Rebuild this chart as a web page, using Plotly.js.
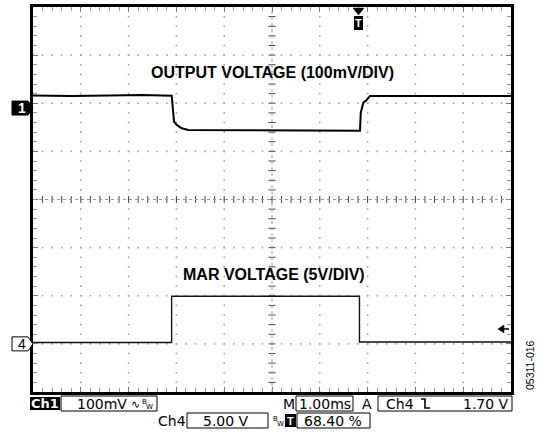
<!DOCTYPE html>
<html><head><meta charset="utf-8">
<script src="https://cdn.plot.ly/plotly-3.0.1.min.js"></script>
<style>html,body{margin:0;padding:0;background:#fff}</style>
</head><body><div id="chart" style="width:537px;height:432px"></div>
<script>
// ---- data (screen divisions: time 1 ms/div from left edge, level in divisions) ----
const outTime  = [0, 0.8, 1.6, 2.3, 2.902, 2.95, 3.006, 3.111, 3.249, 5.0, 6.841, 6.856, 6.91, 6.981, 7.05, 8.0, 9.0, 10];
const outLevel = [2.16, 2.15, 2.16, 2.17, 2.158, 1.617, 1.549, 1.48, 1.445, 1.44, 1.43, 1.798, 2.012, 2.069, 2.152, 2.15, 2.15, 2.15];
const marTime  = [0, 2.90, 2.90, 6.83, 6.83, 10];
const marLevel = [-2.97, -2.97, -2.01, -2.01, -2.96, -2.96];
const ch1Ref = 1.90, ch4Ref = -3.0, trigLevel = -2.69, trigPos = 6.82;
const outLabel = "OUTPUT VOLTAGE (100mV/DIV)";
const marLabel = "MAR VOLTAGE (5V/DIV)";
const ch1Scale = "100mV", ch4Scale = "5.00 V", timeBase = "1.00ms", trigText = "1.70 V", trigPct = "68.40 %";
const figId = "05311-016";

// ---- geometry ----
const W = 537, H = 432, PL = 33, PR = 511, PT = 7, PB = 392;
const DX = (PR - PL) / 10, DY = (PB - PT) / 8;
const xPix = d => PL + d * DX;
const yPix = v => (PT + PB) / 2 - v * DY;
const fx = p => p / W, fy = p => 1 - p / H;

// grid dots
const gx = [], gy = [];
for (let i = 1; i <= 9; i++) { if (i === 5) continue; for (let k = 0; k <= 40; k++) { gx.push(i); gy.push(-4 + k * 0.2); } }
for (let j = -3; j <= 3; j++) { if (j === 0) continue; for (let k = 0; k <= 50; k++) { gx.push(k * 0.2); gy.push(j); } }
// center ticks
const chx = [], chy = [], cvx = [], cvy = [];
for (let k = 1; k < 50; k++) { chx.push(k * 0.2); chy.push(0); }
for (let k = 1; k < 40; k++) { cvx.push(5); cvy.push(-4 + k * 0.2); }

const traces = [
  {x: gx, y: gy, mode: 'markers', marker: {size: 1.6, color: '#a0a0a0', symbol: 'square'}, hoverinfo: 'skip'},
  {x: chx, y: chy, mode: 'markers', marker: {symbol: 'line-ns', size: 5, line: {width: 1, color: '#444'}}, hoverinfo: 'skip'},
  {x: cvx, y: cvy, mode: 'markers', marker: {symbol: 'line-ew', size: 5, line: {width: 1, color: '#444'}}, hoverinfo: 'skip'},
  {x: outTime, y: outLevel, mode: 'lines', line: {color: '#000', width: 2}},
  {x: marTime, y: marLevel, mode: 'lines', line: {color: '#111', width: 1.4}}
];

const P = pts => 'M' + pts.map(p => fx(p[0]).toFixed(5) + ',' + fy(p[1]).toFixed(5)).join('L');
const rect = (x0, y0, x1, y1, fill, lw) => ({type: 'rect', xref: 'paper', yref: 'paper', x0: fx(x0), x1: fx(x1), y0: fy(y1), y1: fy(y0), fillcolor: fill, line: {color: '#000', width: lw}});
const path = (pts, closed, fill, lw) => ({type: 'path', xref: 'paper', yref: 'paper', path: P(pts) + (closed ? 'Z' : ''), fillcolor: fill || 'rgba(0,0,0,0)', line: {color: '#000', width: lw}});

const y1c = yPix(ch1Ref), y4c = yPix(ch4Ref), ytl = yPix(trigLevel), tX = xPix(trigPos);
const shapes = [
  {type: 'line', xref: 'x', yref: 'y', x0: 0, x1: 10, y0: 0, y1: 0, line: {color: '#999', width: 1, dash: 'dot'}},
  {type: 'line', xref: 'x', yref: 'y', x0: 5, x1: 5, y0: -4, y1: 4, line: {color: '#999', width: 1, dash: 'dot'}},
  // channel markers
  path([[12, y1c - 7], [28, y1c - 7], [33, y1c], [28, y1c + 7], [12, y1c + 7]], true, '#000', 1),
  path([[12, y4c - 7], [28, y4c - 7], [33, y4c], [28, y4c + 7], [12, y4c + 7]], true, '#fff', 1),
  // trigger position marker
  path([[353, 8], [364, 8], [358.5, 15]], true, '#000', 0.5),
  rect(354, 16, 363, 30, '#000', 0),
  // trigger level arrow
  path([[498, ytl], [504, ytl - 4], [504, ytl + 4]], true, '#000', 0.5),
  {type: 'line', xref: 'paper', yref: 'paper', x0: fx(503), x1: fx(509), y0: fy(ytl), y1: fy(ytl), line: {color: '#000', width: 1.5}},
  // status bar
  rect(30, 397, 60, 410, '#000', 0),
  rect(61, 396, 157, 411, '#fff', 1),
  rect(296, 396, 353, 411, '#fff', 1),
  rect(378, 396, 512, 411, '#fff', 1),
  rect(187, 413, 268, 428, '#fff', 1),
  rect(285, 414, 296, 427, '#000', 0),
  rect(297, 413, 370, 428, '#fff', 1),
  path([[421, 399], [425, 399], [425, 408], [430, 408]], false, null, 1.6)
];

const F = 'DejaVu Sans, Verdana, sans-serif';
const txt = (x, y, text, o) => Object.assign({xref: 'paper', yref: 'paper', x: fx(x), y: fy(y), text: text, showarrow: false,
  xanchor: 'left', yanchor: 'middle', borderpad: 0, font: {family: F, size: 14, color: '#000'}}, o || {});
const r1 = 403.5, r2 = 420.5;
const annotations = [
  {xref: 'x', yref: 'y', x: 5.0, y: 2.64, text: '<b>' + outLabel + '</b>', showarrow: false, font: {family: 'Liberation Sans, Arial, sans-serif', size: 16, color: '#000'}},
  {xref: 'x', yref: 'y', x: 5.04, y: -1.56, text: '<b>' + marLabel + '</b>', showarrow: false, font: {family: 'Liberation Sans, Arial, sans-serif', size: 16, color: '#000'}},
  txt(22, y1c, '<b>1</b>', {xanchor: 'center', font: {family: 'Liberation Sans, Arial', size: 14, color: '#fff'}}),
  txt(22, y4c, '4', {xanchor: 'center', font: {family: 'Liberation Sans, Arial', size: 14, color: '#000'}}),
  txt(358.5, 23.5, '<b>T</b>', {xanchor: 'center', font: {family: 'Liberation Sans, Arial', size: 11, color: '#fff'}}),
  txt(45, r1, '<b>Ch1</b>', {xanchor: 'center', font: {family: F, size: 13, color: '#fff'}}),
  txt(76, r1, ch1Scale),
  txt(130, r1 + 1, '∿', {font: {family: F, size: 11, color: '#000'}}),
  txt(141, r1 - 2, 'B', {font: {family: F, size: 7, color: '#000'}}),
  txt(145, r1 + 3, 'W', {font: {family: F, size: 7, color: '#000'}}),
  txt(296, r1, 'M', {xanchor: 'right'}),
  txt(325, r1, timeBase, {xanchor: 'center'}),
  txt(367, r1, 'A', {xanchor: 'center'}),
  txt(385, r1, 'Ch4'),
  txt(510, r1, trigText, {xanchor: 'right'}),
  txt(187, r2, 'Ch4', {xanchor: 'right'}),
  txt(202, r2, ch4Scale),
  txt(272, r2 - 2, 'B', {font: {family: F, size: 7, color: '#000'}}),
  txt(276, r2 + 3, 'W', {font: {family: F, size: 7, color: '#000'}}),
  txt(290.5, r2, '<b>T</b>', {xanchor: 'center', font: {family: 'Liberation Sans, Arial', size: 11, color: '#fff'}}),
  txt(303, r2, trigPct),
  txt(530, 365, figId, {xanchor: 'center', textangle: -90, font: {family: 'Liberation Sans, Arial', size: 10.5, color: '#000'}})
];

const axisCommon = {showgrid: false, zeroline: false, showticklabels: false, showline: true, mirror: 'ticks',
  linecolor: '#000', linewidth: 3, ticks: 'inside', ticklen: 5, tickcolor: '#777', tickwidth: 1, fixedrange: true};
const layout = {
  width: W, height: H, margin: {l: 0, r: 0, t: 0, b: 0}, paper_bgcolor: '#fff', plot_bgcolor: '#fff', showlegend: false,
  xaxis: Object.assign({}, axisCommon, {domain: [fx(PL), fx(PR)], range: [0, 10], dtick: 1, tick0: 0,
    minor: {dtick: 0.2, tick0: 0, ticks: 'inside', ticklen: 4, tickcolor: '#999', tickwidth: 1}}),
  yaxis: Object.assign({}, axisCommon, {domain: [fy(PB), fy(PT)], range: [-4, 4], dtick: 1, tick0: 0,
    minor: {dtick: 0.2, tick0: 0, ticks: 'inside', ticklen: 4, tickcolor: '#999', tickwidth: 1}}),
  shapes: shapes, annotations: annotations
};
Plotly.newPlot('chart', traces, layout, {displayModeBar: false, staticPlot: true});
</script></body></html>
